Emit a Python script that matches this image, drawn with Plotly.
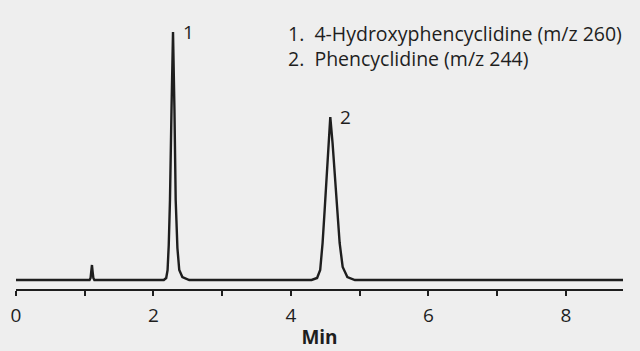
import plotly.graph_objects as go

# Retention time (min) and detector response (arbitrary units)
time_min = [0.0, 1.07, 1.085, 1.095, 1.105, 1.115, 1.125, 1.14,
            2.150, 2.185, 2.205, 2.222, 2.240, 2.262, 2.284, 2.305, 2.323, 2.348, 2.375, 2.420, 2.520,
            4.30, 4.380, 4.425, 4.460, 4.490, 4.520, 4.552, 4.572, 4.605, 4.642, 4.678, 4.708, 4.752, 4.820, 4.93,
            8.83]
response = [0, 0, 2, 9, 15, 8, 2, 0,
            0, 2, 10, 35, 80, 170, 248, 170, 80, 32, 10, 3, 0,
            0, 2, 10, 37, 70, 103, 137, 163, 137, 103, 70, 37, 13, 3, 0,
            0]

peak_labels = ["1", "2"]
peak_times = [2.284, 4.572]
peak_heights = [248, 163]

legend_lines = ["1.  4-Hydroxyphencyclidine (m/z 260)", "2.  Phencyclidine (m/z 244)"]

tick_vals = [0, 1, 2, 3, 4, 5, 6, 7, 8]
tick_text = ["0", "", "2", "", "4", "", "6", "", "8"]

BG = "#eeeeee"
INK = "#1e1e1e"
FONT = "Open Sans"

fig = go.Figure()
fig.add_trace(go.Scatter(x=time_min, y=response, mode="lines",
                         line=dict(color=INK, width=2.4), hoverinfo="skip"))

for lab, t, h in zip(peak_labels, peak_times, peak_heights):
    fig.add_annotation(x=t, y=h, text=lab, showarrow=False, xanchor="left", yanchor="middle",
                       xshift=8, font=dict(family=FONT, size=19, color=INK))

fig.add_annotation(xref="paper", yref="paper", x=0.444, y=0.97, xanchor="left", yanchor="top",
                   text="<br>".join(legend_lines), align="left", showarrow=False,
                   font=dict(family=FONT, size=19.5, color=INK))

fig.update_layout(
    width=640, height=351,
    margin=dict(l=16, r=17, t=10, b=62),
    paper_bgcolor=BG, plot_bgcolor=BG,
    showlegend=False,
    xaxis=dict(range=[0, 8.83], showgrid=False, zeroline=False,
               showline=True, linecolor=INK, linewidth=1.5,
               ticks="outside", ticklen=5, tickwidth=1.5, tickcolor=INK,
               tickvals=tick_vals, ticktext=tick_text, ticklabelstandoff=3,
               tickfont=dict(family=FONT, size=19, color=INK),
               title=dict(text="<b>Min</b>", font=dict(family=FONT, size=19, color=INK), standoff=4),
               automargin=False),
    yaxis=dict(range=[-9, 270], visible=False, automargin=False),
)

fig.write_html("out.html")
